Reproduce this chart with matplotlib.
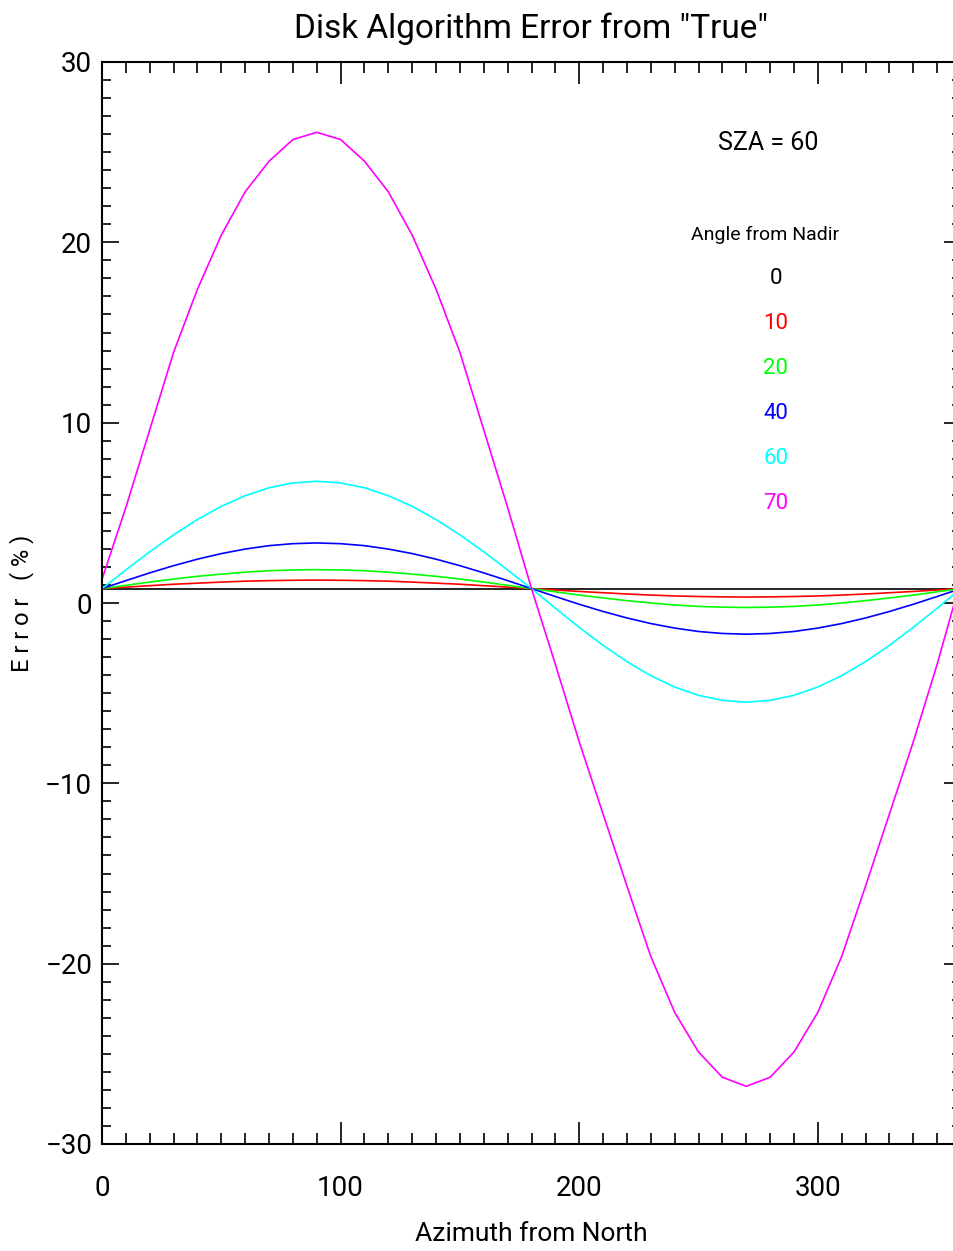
import numpy as np
import matplotlib
matplotlib.use('Agg')
import matplotlib.pyplot as plt
from matplotlib.ticker import MultipleLocator

# === DATI ===
azimuth = np.arange(0, 361, 10)

err_0 = [0.80] * 37
err_10 = [0.80, 0.88, 0.96, 1.04, 1.10, 1.16, 1.21, 1.24, 1.26, 1.27,
          1.26, 1.24, 1.21, 1.16, 1.10, 1.04, 0.96, 0.88, 0.80,
          0.72, 0.64, 0.57, 0.50, 0.44, 0.39, 0.36, 0.34, 0.33,
          0.34, 0.36, 0.39, 0.44, 0.50, 0.57, 0.64, 0.72, 0.80]
err_20 = [0.80, 0.98, 1.16, 1.33, 1.48, 1.60, 1.71, 1.79, 1.83, 1.85,
          1.83, 1.79, 1.71, 1.60, 1.48, 1.33, 1.16, 0.98, 0.80,
          0.62, 0.44, 0.28, 0.13, 0.00, -0.11, -0.19, -0.23, -0.25,
          -0.23, -0.19, -0.11, 0.00, 0.13, 0.28, 0.44, 0.62, 0.80]
err_40 = [0.80, 1.24, 1.67, 2.07, 2.43, 2.74, 2.99, 3.18, 3.29, 3.33,
          3.29, 3.18, 2.99, 2.74, 2.43, 2.07, 1.67, 1.24, 0.80,
          0.36, -0.07, -0.47, -0.83, -1.14, -1.39, -1.58, -1.69, -1.73,
          -1.69, -1.58, -1.39, -1.14, -0.83, -0.47, -0.07, 0.36, 0.80]
err_60 = [0.80, 1.83, 2.84, 3.78, 4.63, 5.36, 5.95, 6.39, 6.66, 6.75,
          6.66, 6.39, 5.95, 5.36, 4.63, 3.78, 2.84, 1.83, 0.80,
          -0.29, -1.35, -2.35, -3.25, -4.03, -4.66, -5.12, -5.40, -5.50,
          -5.40, -5.12, -4.66, -4.03, -3.25, -2.35, -1.35, -0.29, 0.80]
err_70 = [1.31, 5.3, 9.6, 13.9, 17.4, 20.4, 22.8, 24.5, 25.7, 26.1,
          25.7, 24.5, 22.8, 20.4, 17.4, 13.9, 9.6, 5.3, 0.8,
          -3.4, -7.7, -11.7, -15.7, -19.6, -22.7, -24.9, -26.3, -26.8,
          -26.3, -24.9, -22.7, -19.6, -15.7, -11.7, -7.7, -3.4, 1.31]

nadir = ['0', '10', '20', '40', '60', '70']
colori = ['#000000', '#ff0000', '#00ff00', '#0000ff', '#00ffff', '#ff00ff']
serie = [err_0, err_10, err_20, err_40, err_60, err_70]

plt.rcParams['font.family'] = ['Roboto', 'DejaVu Sans']

# === GRAFICO ===
fig = plt.figure(figsize=(9.54, 12.51), dpi=100)
ax = fig.add_axes([102 / 954, 107 / 1251, (961 - 102) / 954, 1082 / 1251])

for y, c in zip(serie, colori):
    ax.plot(azimuth, y, color=c, lw=1.2)

ax.set_xlim(0, 360)
ax.set_ylim(-30, 30)
ax.xaxis.set_major_locator(MultipleLocator(100))
ax.xaxis.set_minor_locator(MultipleLocator(10))
ax.yaxis.set_major_locator(MultipleLocator(10))
ax.yaxis.set_minor_locator(MultipleLocator(1))
ax.tick_params(which='both', direction='in', top=True, right=True, width=1.2)
ax.tick_params(axis='x', which='major', length=16, pad=22, labelsize=20)
ax.tick_params(axis='x', which='minor', length=8)
ax.tick_params(axis='y', which='major', length=12, pad=7, labelsize=20)
ax.tick_params(axis='y', which='minor', length=6.5)
for s in ax.spines.values():
    s.set_linewidth(1.5)

ax.set_xlabel('Azimuth from North', fontsize=19, labelpad=15)
fig.text(22 / 954, 1 - 603 / 1251, 'E r r o r   ( % )', rotation=90,
         ha='center', va='center', fontsize=17)
fig.text(531 / 954, 1 - 29 / 1251, 'Disk Algorithm Error from "True"',
         ha='center', va='center', fontsize=24)

fig.text(768 / 954, 1 - 143 / 1251, 'SZA = 60', ha='center', va='center', fontsize=18)
fig.text(765 / 954, 1 - 235 / 1251, 'Angle from Nadir', ha='center', va='center', fontsize=14)
for i, (n, c) in enumerate(zip(nadir, colori)):
    fig.text(776 / 954, 1 - (279 + 45 * i) / 1251, n, ha='center', va='center',
             fontsize=16, color=c)

fig.savefig('out.png', dpi=100)
